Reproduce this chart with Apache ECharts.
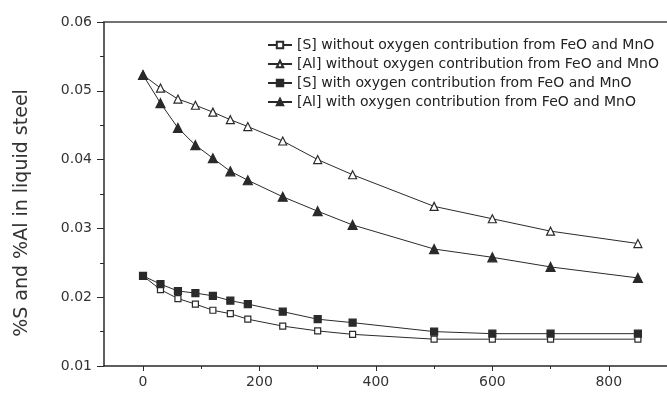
<!DOCTYPE html>
<html><head><meta charset="utf-8">
<script src="https://cdn.jsdelivr.net/npm/echarts@6/dist/echarts.min.js"></script>
<style>html,body{margin:0;padding:0;background:#fff}#c{width:667px;height:394px}</style>
</head><body><div id="c"></div>
<script>
const xValues = [0, 30, 60, 90, 120, 150, 180, 240, 300, 360, 500, 600, 700, 850];
const sWithout = [0.0231, 0.0211, 0.0198, 0.0190, 0.0181, 0.0176, 0.0168, 0.0158, 0.0151, 0.0146, 0.0139, 0.0139, 0.0139, 0.0139];
const alWithout = [0.0523, 0.0504, 0.0488, 0.0479, 0.0469, 0.0458, 0.0448, 0.0427, 0.0400, 0.0378, 0.0332, 0.0314, 0.0296, 0.0278];
const sWith = [0.0231, 0.0219, 0.0209, 0.0206, 0.0202, 0.0195, 0.0190, 0.0179, 0.0168, 0.0163, 0.0150, 0.0147, 0.0147, 0.0147];
const alWith = [0.0523, 0.0482, 0.0446, 0.0421, 0.0402, 0.0383, 0.0370, 0.0346, 0.0325, 0.0305, 0.0270, 0.0258, 0.0244, 0.0228];
const seriesNames = [
  '[S] without oxygen contribution from FeO and MnO',
  '[Al] without oxygen contribution from FeO and MnO',
  '[S] with oxygen contribution from FeO and MnO',
  '[Al] with oxygen contribution from FeO and MnO'
];
const yAxisTitle = '%S and %Al in liquid steel';
const xMajorTicks = [0, 200, 400, 600, 800];
const xMinorTicks = [100, 300, 500, 700];
const yTickLabels = ['0.01', '0.02', '0.03', '0.04', '0.05', '0.06'];

const ink = '#2a2a2a';
const font = 'DejaVu Sans, Verdana, sans-serif';
function pairs(ys) { return xValues.map((x, i) => [x, ys[i]]); }
function mk(name, ys, symbol, size, hollow) {
  return {
    name, type: 'line', data: pairs(ys), symbol, symbolSize: size,
    xAxisIndex: 0, yAxisIndex: 0,
    lineStyle: { color: ink, width: 1 },
    itemStyle: { color: hollow ? '#fff' : ink, borderColor: ink, borderWidth: 1.2 },
    emphasis: { disabled: true }, animation: false, z: hollow ? 3 : 4
  };
}
const chart = echarts.init(document.getElementById('c'), null, { renderer: 'canvas' });
chart.setOption({
  animation: false,
  textStyle: { fontFamily: font },
  grid: { left: 104, right: 0, top: 22, bottom: 28 },
  legend: {
    orient: 'vertical', left: 262, top: 33, itemWidth: 24, itemHeight: 8, itemGap: 5,
    textStyle: { fontSize: 14, color: '#222', fontFamily: font },
    data: seriesNames
  },
  graphic: [{
    type: 'text', x: 22, y: 213, rotation: Math.PI / 2,
    style: { text: yAxisTitle, font: '19px ' + font, fill: '#333', align: 'center', verticalAlign: 'middle' }
  }],
  xAxis: [
    { type: 'value', min: -67, max: 900, position: 'bottom',
      axisLine: { onZero: false, lineStyle: { color: ink, width: 1.5 } },
      axisTick: { show: true, length: 5, customValues: xMajorTicks, lineStyle: { color: ink } },
      axisLabel: { customValues: xMajorTicks, fontSize: 14, color: '#333', margin: 9, fontFamily: font },
      splitLine: { show: false } },
    { type: 'value', min: -67, max: 900, position: 'bottom',
      axisLine: { show: false, onZero: false },
      axisTick: { show: true, length: 3, customValues: xMinorTicks, lineStyle: { color: ink } },
      axisLabel: { show: false }, splitLine: { show: false } },
    { type: 'value', min: -67, max: 900, position: 'top',
      axisLine: { show: true, onZero: false, lineStyle: { color: '#444', width: 1.5 } },
      axisTick: { show: false }, axisLabel: { show: false }, splitLine: { show: false } }
  ],
  yAxis: [{
    type: 'value', min: 0.01, max: 0.06, interval: 0.01,
    axisLine: { show: true, onZero: false, lineStyle: { color: ink, width: 1.5 } },
    axisTick: { show: true, length: 7, lineStyle: { color: ink } },
    minorTick: { show: true, splitNumber: 2, length: 4, lineStyle: { color: ink } },
    axisLabel: { fontSize: 14, color: '#333', margin: 12, fontFamily: font,
      formatter: v => yTickLabels.find(t => Math.abs(parseFloat(t) - v) < 1e-9) || '' },
    splitLine: { show: false }
  }],
  series: [
    mk(seriesNames[0], sWithout, 'rect', 6, true),
    mk(seriesNames[1], alWithout, 'triangle', 8, true),
    mk(seriesNames[2], sWith, 'rect', 7, false),
    mk(seriesNames[3], alWith, 'triangle', 9, false)
  ]
});
</script></body></html>
